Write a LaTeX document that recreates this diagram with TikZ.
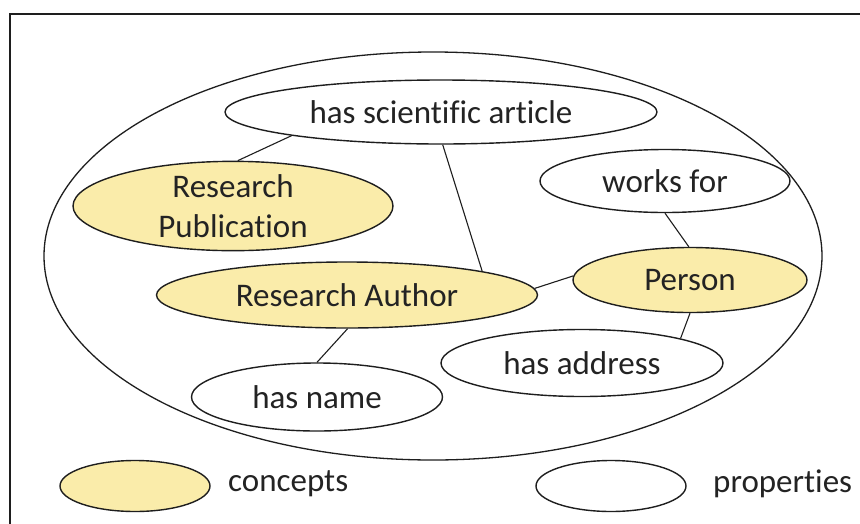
\documentclass[tikz,border=0pt]{standalone}
\usepackage{fontspec}
\setmainfont[RawFeature=-liga]{Carlito}
\usetikzlibrary{shapes.geometric}
\definecolor{conceptfill}{RGB}{250,236,170}
\definecolor{inkline}{RGB}{30,30,30}
\definecolor{textink}{RGB}{35,35,35}
\tikzset{
  oval/.style={ellipse, draw=inkline, line width=1.4pt, inner sep=0pt,
    text=textink, font=\fontsize{33}{40}\selectfont, align=center},
  concept/.style={oval, fill=conceptfill},
  property/.style={oval, fill=white},
  link/.style={draw=inkline, line width=1.1pt},
  legendtext/.style={text=textink, font=\fontsize{33}{40}\selectfont, anchor=west, inner sep=0pt}
}
\begin{document}
\begin{tikzpicture}[x=1pt,y=-1pt]
\useasboundingbox (0,0) rectangle (860,523);
\fill[white] (0,0) rectangle (860,523);
\begin{scope}
\clip (0,0) rectangle (860,523);
% outer frame, running off the right and bottom edges
\draw[inkline, line width=1.6pt] (10,14) rectangle (880,540);
\end{scope}

% enclosing ontology ellipse
\draw[inkline, line width=1.3pt] (433,256) ellipse [x radius=389, y radius=204];

% concepts and properties
\node[property, minimum width=432pt, minimum height=64pt] (sci) at (441,112) {has scientific article};
\node[concept, minimum width=320pt, minimum height=84pt] (pub) at (233,206) {Research\\Publication};
\node[property, minimum width=250pt, minimum height=63pt] (works) at (665,181) {works for};
\node[concept, minimum width=234pt, minimum height=65pt] (person) at (690,280) {Person};
\node[concept, minimum width=381pt, minimum height=66pt] (author) at (347,295) {Research Author};
\node[property, minimum width=282pt, minimum height=67pt] (addr) at (582,363) {has address};
\node[property, minimum width=251pt, minimum height=68pt] (name) at (317,397) {has name};

% connectors
\draw[link] (sci.-171) -- (pub.84);
\draw[link] (sci.-87) -- (author.10);
\draw[link] (author.2) -- (person.178);
\draw[link] (works.-90) -- (person.92);
\draw[link] (person.-90) -- (addr.14);
\draw[link] (author.-89) -- (name.90);

% legend
\node[concept, minimum width=150pt, minimum height=51pt] (lc) at (135,486) {};
\node[legendtext] (lct) at (228,484) {concepts};
\node[property, minimum width=150pt, minimum height=51pt] (lp) at (611,486) {};
\node[legendtext] (lpt) at (713,484) {properties};
\end{tikzpicture}
\end{document}
